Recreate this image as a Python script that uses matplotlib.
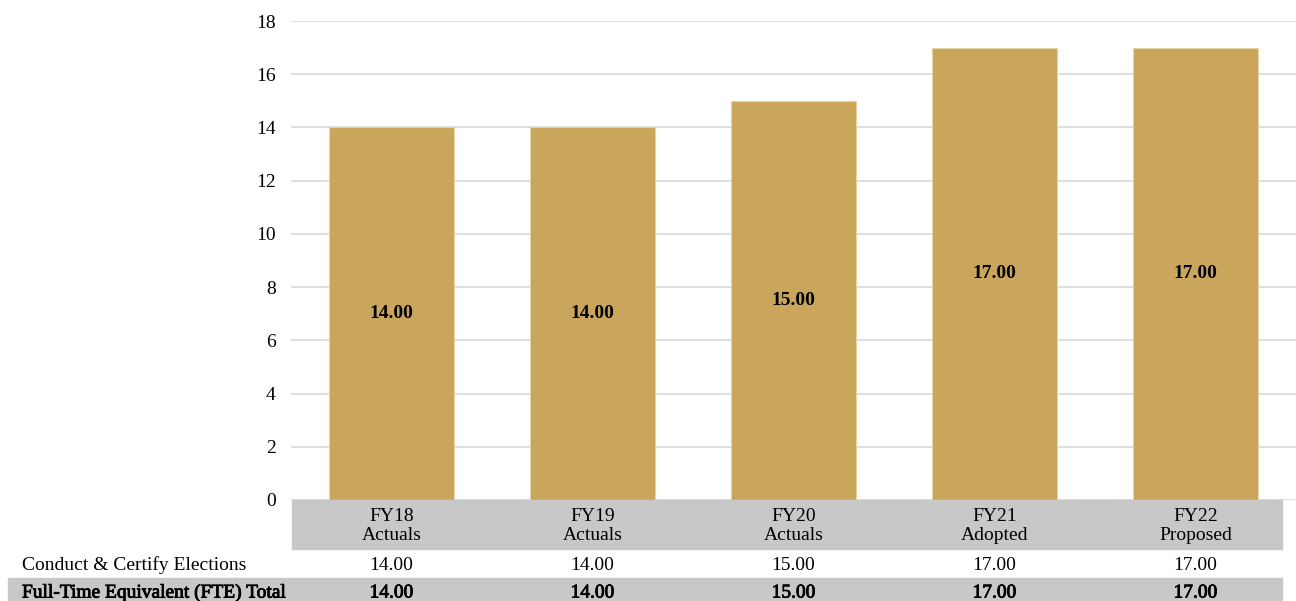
import matplotlib.pyplot as plt
import matplotlib.patheffects as pe
from matplotlib.patches import Rectangle
from matplotlib.transforms import blended_transform_factory

years = ["FY18", "FY19", "FY20", "FY21", "FY22"]
stages = ["Actuals", "Actuals", "Actuals", "Adopted", "Proposed"]
conduct = [14.00, 14.00, 15.00, 17.00, 17.00]
fte_total = [14.00, 14.00, 15.00, 17.00, 17.00]
row_labels = ["Conduct & Certify Elections", "Full-Time Equivalent (FTE) Total"]

W, H = 1296, 601
plt.rcParams['font.family'] = ['Liberation Serif', 'DejaVu Serif']
fig = plt.figure(figsize=(W / 100, H / 100), dpi=100)
FS = 14
heavy = [pe.withStroke(linewidth=0.6, foreground="black")]

def fy(px):
    # pixel row from top -> figure fraction
    return 1 - px / H

ax = fig.add_axes([291 / W, fy(500), 1005 / W, (500 - 21) / H])
x = list(range(len(years)))
bars = ax.bar(x, conduct, width=0.62, color="#C9A65C", edgecolor="#E6D3A8", linewidth=0.8, zorder=3)
for b, v in zip(bars, conduct):
    ax.text(b.get_x() + b.get_width() / 2, v / 2, "{:.2f}".format(v), ha="center", va="center",
            fontsize=FS, fontweight="bold", zorder=4)

ax.set_xlim(-0.5, 4.5)
ax.set_ylim(0, 18)
ax.set_yticks(range(0, 19, 2))
ax.yaxis.grid(True, color="#D9D9D9", linewidth=1.2, zorder=0)
ax.tick_params(axis="y", length=0, labelsize=FS, pad=11)
ax.set_xticks([])
for s in ax.spines.values():
    s.set_visible(False)
ax.set_axisbelow(True)

# table part below the plot
tr = blended_transform_factory(ax.transData, fig.transFigure)
fig.patches.append(Rectangle((292 / W, fy(549)), (1282 - 292) / W, (549 - 500) / H,
                             transform=fig.transFigure, color="#C8C8C8", zorder=0))
fig.patches.append(Rectangle((8 / W, 0), (1282 - 8) / W, (601 - 578) / H,
                             transform=fig.transFigure, color="#C8C8C8", zorder=0))

for i in x:
    fig.text(i, fy(526), years[i] + "\n" + stages[i], transform=tr, ha="center", va="center",
             fontsize=FS, linespacing=1.2)
    fig.text(i, fy(565), "{:.2f}".format(conduct[i]), transform=tr, ha="center", va="center", fontsize=FS)
    fig.text(i, fy(593), "{:.2f}".format(fte_total[i]), transform=tr, ha="center", va="center",
             fontsize=FS, path_effects=heavy)

fig.text(22 / W, fy(565), row_labels[0], ha="left", va="center", fontsize=FS)
fig.text(22 / W, fy(593), row_labels[1], ha="left", va="center", fontsize=FS, path_effects=heavy)

fig.savefig("out.png", dpi=100)
